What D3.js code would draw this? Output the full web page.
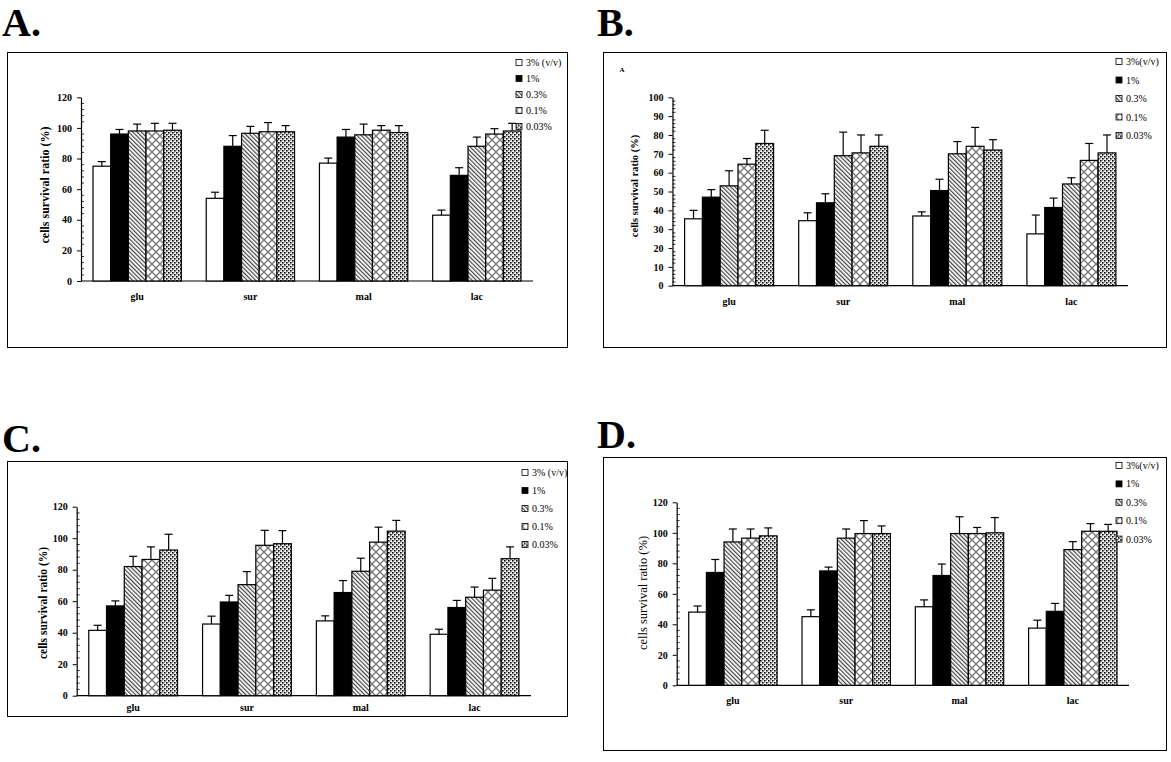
<!DOCTYPE html>
<html>
<head>
<meta charset="utf-8">
<script src="https://cdn.jsdelivr.net/npm/d3@7"></script>
<style>
  body { margin: 0; background: #fff; }
  svg { display: block; font-family: "Liberation Serif", "DejaVu Serif", serif; }
</style>
</head>
<body>
<svg id="chart" width="1171" height="762"></svg>
<script>
// ---- data ----
const categories = ["glu", "sur", "mal", "lac"];
const seriesAC = ["3% (v/v)", "1%", "0.3%", "0.1%", "0.03%"];
const seriesBD = ["3%(v/v)", "1%", "0.3%", "0.1%", "0.03%"];
const ticks120 = [0, 20, 40, 60, 80, 100, 120];
const ticks100 = [0, 10, 20, 30, 40, 50, 60, 70, 80, 90, 100];

// rows = categories, columns = concentrations
const meansA = [[75, 96, 98, 98, 98.5], [54, 88, 96.5, 97.5, 97.5], [77, 94, 95.5, 98.5, 97], [43, 69, 88, 96, 98]];
const errsA  = [[3, 3, 4.5, 5, 4.5], [4, 7, 4.5, 6, 4], [3.3, 5, 7, 3, 4.5], [3.3, 5, 6, 3.5, 5]];

const meansB = [[35.5, 47, 53, 64.5, 75.5], [34.5, 44, 69, 70.5, 74], [37, 50.5, 70, 74, 72], [27.5, 41.5, 54, 66.5, 70.5]];
const errsB  = [[4.5, 4, 8, 3, 7], [4.2, 4.8, 12.5, 9.5, 6], [2.2, 6, 6.5, 10, 5.5], [10, 5, 3.3, 9, 9.5]];

const meansC = [[41.5, 57, 82, 86.5, 92.5], [45.5, 59.5, 70.5, 95.5, 96.5], [47.5, 65.5, 79, 97.5, 104.5], [39, 56, 62.5, 67, 87]];
const errsC  = [[3.2, 3.2, 6.5, 8, 10], [5, 4.2, 8.3, 9.5, 8.3], [3.2, 7.6, 8.3, 9.5, 6.8], [3.2, 4.5, 6.5, 7.5, 7.5]];

const meansD = [[48, 74, 94, 96.5, 98], [45, 75, 96.5, 99.5, 99.5], [51.5, 72, 99.5, 99.5, 100], [37.5, 48.5, 89, 101, 101]];
const errsD  = [[4, 8.5, 8.5, 6, 5.2], [4.5, 2.5, 6, 8.5, 5], [4.5, 7.5, 11, 4, 10], [5.2, 5.2, 5.2, 5, 4.5]];

// ---- layout ----
const panels = [
  {title: "A.", tx: 2, ty: 36, frame: [7.5, 52.5, 560, 295], ax: 81, axEnd: 533, yBot: 281, yTop: 97.3,
   max: 120, ticks: ticks120, minor: 4, means: meansA, errs: errsA, series: seriesAC,
   legX: 516, legY: 62.5, legStep: 16, catY: 300, lab: {x: 45, y: 185, size: 12, weight: "bold"}},
  {title: "B.", tx: 597, ty: 36, frame: [603.5, 52.5, 563, 295], ax: 672.5, axEnd: 1128, yBot: 285.7, yTop: 97.3,
   max: 100, ticks: ticks100, minor: 2, means: meansB, errs: errsB, series: seriesBD,
   legX: 1116, legY: 61.5, legStep: 18.5, catY: 305, lab: {x: 634, y: 186, size: 10.5, weight: "bold"}, note: "A"},
  {title: "C.", tx: 2, ty: 452, frame: [7.5, 461.5, 560, 255], ax: 76.7, axEnd: 531, yBot: 695.7, yTop: 506.7,
   max: 120, ticks: ticks120, minor: 4, means: meansC, errs: errsC, series: seriesAC,
   legX: 522, legY: 472.5, legStep: 18, catY: 711, lab: {x: 43, y: 603, size: 11.5, weight: "bold"}},
  {title: "D.", tx: 597, ty: 448, frame: [603.5, 457.5, 563, 293], ax: 676.7, axEnd: 1129, yBot: 685.3, yTop: 502.3,
   max: 120, ticks: ticks120, minor: 4, means: meansD, errs: errsD, series: seriesBD,
   legX: 1116, legY: 465.5, legStep: 18.4, catY: 704, lab: {x: 643, y: 593, size: 12.5, weight: "normal"}}
];

const svg = d3.select("#chart");
svg.append("rect").attr("width", 1171).attr("height", 762).attr("fill", "#fff");

// ---- hatch patterns ----
const defs = svg.append("defs");
const pat = (id, w, h) => defs.append("pattern").attr("id", id)
  .attr("patternUnits", "userSpaceOnUse").attr("width", w).attr("height", h);

let p = pat("p-white", 4, 4);
p.append("rect").attr("width", 4).attr("height", 4).attr("fill", "#fff");

p = pat("p-black", 4, 4);
p.append("rect").attr("width", 4).attr("height", 4).attr("fill", "#000");

p = pat("p-diag", 3, 3).attr("patternTransform", "rotate(-45)");
p.append("rect").attr("width", 3).attr("height", 3).attr("fill", "#fff");
p.append("line").attr("x1", 0.6).attr("y1", 0).attr("x2", 0.6).attr("y2", 3)
  .attr("stroke", "#444").attr("stroke-width", 1.2);

p = pat("p-cross", 8, 8);
p.append("rect").attr("width", 8).attr("height", 8).attr("fill", "#fff");
p.append("path").attr("d", "M0,0L8,8M8,0L0,8").attr("stroke", "#7a7a7a").attr("stroke-width", 1.4);

p = pat("p-dots", 4, 4);
p.append("rect").attr("width", 4).attr("height", 4).attr("fill", "#fff");
p.append("rect").attr("x", 0).attr("y", 0).attr("width", 1.6).attr("height", 1.6).attr("fill", "#000");
p.append("rect").attr("x", 2).attr("y", 2).attr("width", 1.6).attr("height", 1.6).attr("fill", "#000");
p.append("rect").attr("x", 2).attr("y", 0).attr("width", 1.2).attr("height", 1.2).attr("fill", "#aaa");
p.append("rect").attr("x", 0).attr("y", 2).attr("width", 1.2).attr("height", 1.2).attr("fill", "#aaa");

const fills = ["url(#p-white)", "url(#p-black)", "url(#p-diag)", "url(#p-cross)", "url(#p-dots)"];

// ---- draw each panel ----
panels.forEach(cfg => {
  const g = svg.append("g");

  g.append("text").attr("x", cfg.tx).attr("y", cfg.ty)
    .attr("font-size", 40).attr("font-weight", "bold").text(cfg.title);

  const [fx, fy, fw, fh] = cfg.frame;
  g.append("rect").attr("x", fx).attr("y", fy).attr("width", fw).attr("height", fh)
    .attr("fill", "none").attr("stroke", "#000").attr("stroke-width", 1);

  if (cfg.note) {
    g.append("text").attr("x", fx + 16).attr("y", fy + 19)
      .attr("font-size", 7).attr("font-weight", "bold").text(cfg.note);
  }

  const y = d3.scaleLinear().domain([0, cfg.max]).range([cfg.yBot, cfg.yTop]);
  const x0 = d3.scaleBand().domain(categories).range([cfg.ax, cfg.axEnd])
    .paddingInner(0.22).paddingOuter(0.106);
  const x1 = d3.scaleBand().domain(d3.range(cfg.series.length)).range([0, x0.bandwidth()]);

  // y axis
  const yAxis = g.append("g").attr("transform", `translate(${cfg.ax},0)`)
    .call(d3.axisLeft(y).tickValues(cfg.ticks).tickSize(4).tickSizeOuter(0).tickPadding(5));
  yAxis.attr("font-family", null);
  yAxis.select(".domain").attr("stroke", "#000").attr("stroke-width", 1.2);
  yAxis.selectAll(".tick line").attr("stroke", "#000");
  yAxis.selectAll(".tick text")
    .attr("font-size", 10).attr("font-weight", "bold").attr("fill", "#000");

  const minors = d3.range(0, cfg.max + 0.01, cfg.minor).filter(v => !cfg.ticks.includes(v));
  g.selectAll(".minor").data(minors).join("line").attr("class", "minor")
    .attr("x1", cfg.ax).attr("x2", cfg.ax + 3)
    .attr("y1", d => y(d)).attr("y2", d => y(d))
    .attr("stroke", "#000").attr("stroke-width", 0.8);

  // x axis line + category labels
  g.append("line").attr("x1", cfg.ax).attr("x2", cfg.axEnd)
    .attr("y1", cfg.yBot).attr("y2", cfg.yBot).attr("stroke", "#000").attr("stroke-width", 1.2);
  g.selectAll(".cat").data(categories).join("text").attr("class", "cat")
    .attr("x", d => x0(d) + x0.bandwidth() / 2).attr("y", cfg.catY)
    .attr("text-anchor", "middle").attr("font-size", 10).attr("font-weight", "bold")
    .text(d => d);

  // y label
  g.append("text")
    .attr("transform", `translate(${cfg.lab.x},${cfg.lab.y}) rotate(-90)`)
    .attr("text-anchor", "middle").attr("dominant-baseline", "central")
    .attr("font-size", cfg.lab.size).attr("font-weight", cfg.lab.weight)
    .text("cells survival ratio (%)");

  // bars
  const cells = [];
  categories.forEach((c, i) => cfg.means[i].forEach((v, j) => cells.push({c, j, v, e: cfg.errs[i][j]})));

  const bw = x1.bandwidth();
  g.selectAll(".bar").data(cells).join("rect").attr("class", "bar")
    .attr("x", d => x0(d.c) + x1(d.j)).attr("y", d => y(d.v))
    .attr("width", bw).attr("height", d => cfg.yBot - y(d.v))
    .attr("fill", d => fills[d.j]).attr("stroke", "#000").attr("stroke-width", 1.2);

  // error bars (upper only)
  const eb = g.selectAll(".err").data(cells).join("g").attr("class", "err")
    .attr("transform", d => `translate(${x0(d.c) + x1(d.j) + bw / 2},0)`);
  eb.append("line").attr("x1", 0).attr("x2", 0)
    .attr("y1", d => y(d.v)).attr("y2", d => y(d.v + d.e))
    .attr("stroke", "#000").attr("stroke-width", 1.2);
  eb.append("line").attr("x1", -4).attr("x2", 4)
    .attr("y1", d => y(d.v + d.e)).attr("y2", d => y(d.v + d.e))
    .attr("stroke", "#000").attr("stroke-width", 1.2);

  // legend
  const leg = g.selectAll(".leg").data(cfg.series).join("g").attr("class", "leg")
    .attr("transform", (d, i) => `translate(${cfg.legX},${cfg.legY + i * cfg.legStep})`);
  leg.append("rect").attr("x", 0).attr("y", -3).attr("width", 6).attr("height", 6)
    .attr("fill", (d, i) => fills[i]).attr("stroke", "#000").attr("stroke-width", 0.8);
  leg.append("text").attr("x", 10).attr("y", 0).attr("dominant-baseline", "central")
    .attr("font-size", 10).text(d => d);
});
</script>
</body>
</html>
